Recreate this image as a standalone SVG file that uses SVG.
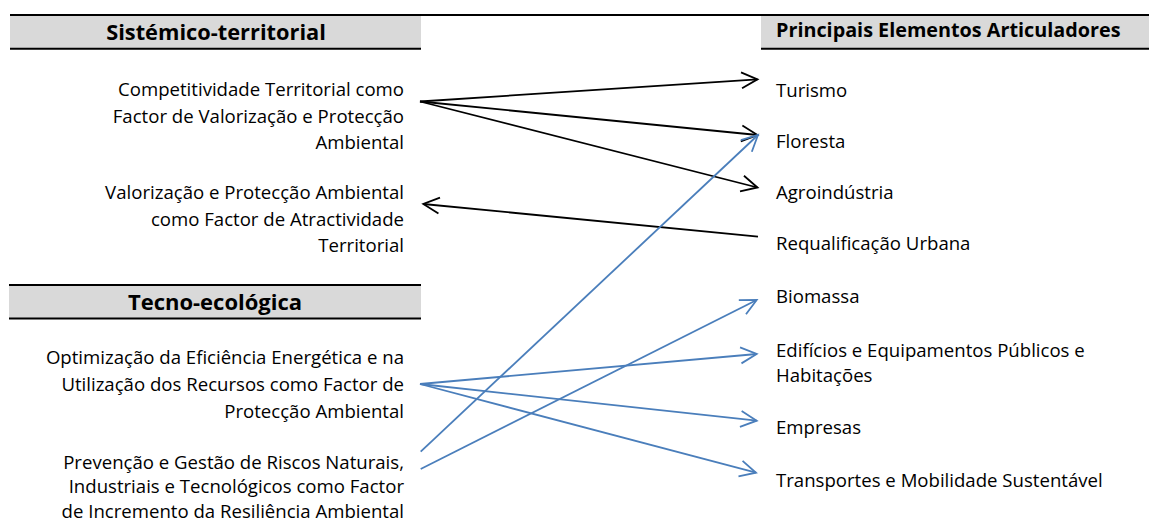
<svg xmlns="http://www.w3.org/2000/svg" width="1149" height="522" viewBox="0 0 1149 522">
<style>
  .t { font-family: "Open Sans", "Liberation Sans", sans-serif; font-size: 18.6px; fill: #000; }
  .l { text-anchor: end; }
  .h { font-family: "Open Sans", "Liberation Sans", sans-serif; font-weight: bold; fill: #000; }
  .band { fill: #D9D9D9; }
  .rule { stroke: #000; stroke-width: 2; }
  .k { stroke: #000; stroke-width: 1.8; fill: none; marker-end: url(#ak); }
  .b { stroke: #4A7EBB; stroke-width: 1.8; fill: none; marker-end: url(#ab); }
</style>
<defs>
  <marker id="ak" markerUnits="userSpaceOnUse" viewBox="-20 -10 22 20" refX="0" refY="0" markerWidth="22" markerHeight="20" orient="auto" overflow="visible">
    <path d="M -16 -8 L 0 0 L -16 8" fill="none" stroke="#000" stroke-width="1.8"/>
  </marker>
  <marker id="ab" markerUnits="userSpaceOnUse" viewBox="-20 -10 22 20" refX="0" refY="0" markerWidth="22" markerHeight="20" orient="auto" overflow="visible">
    <path d="M -16 -8 L 0 0 L -16 8" fill="none" stroke="#4A7EBB" stroke-width="1.8"/>
  </marker>
</defs>
<rect width="1149" height="522" fill="#fff"/>

<g id="header-sistemico">
  <rect class="band" x="10" y="16" width="411" height="32"/>
  <line class="rule" x1="10" y1="15" x2="1149" y2="15"/>
  <line class="rule" x1="10" y1="48.7" x2="421" y2="48.7"/>
  <text class="h" x="216" y="40" font-size="21.8" text-anchor="middle">Sistémico-territorial</text>
</g>
<g id="header-principais">
  <rect class="band" x="761" y="16" width="388" height="32"/>
  <line class="rule" x1="761" y1="48.7" x2="1149" y2="48.7"/>
  <text class="h" x="776" y="37" font-size="19.8">Principais Elementos Articuladores</text>
</g>
<g id="header-tecno">
  <rect class="band" x="9" y="286" width="412" height="32"/>
  <line class="rule" x1="9" y1="285" x2="421" y2="285"/>
  <line class="rule" x1="9" y1="318.5" x2="421" y2="318.5"/>
  <text class="h" x="215" y="310" font-size="22" text-anchor="middle">Tecno-ecológica</text>
</g>

<g id="node-competitividade">
  <text class="t l" x="404" y="96">Competitividade Territorial como</text>
  <text class="t l" x="404" y="122.5">Factor de Valorização e Protecção</text>
  <text class="t l" x="404" y="149">Ambiental</text>
</g>
<g id="node-valorizacao">
  <text class="t l" x="404" y="199">Valorização e Protecção Ambiental</text>
  <text class="t l" x="404" y="225.5">como Factor de Atractividade</text>
  <text class="t l" x="404" y="252">Territorial</text>
</g>
<g id="node-optimizacao">
  <text class="t l" x="404" y="364">Optimização da Eficiência Energética e na</text>
  <text class="t l" x="404" y="391">Utilização dos Recursos como Factor de</text>
  <text class="t l" x="404" y="417.5">Protecção Ambiental</text>
</g>
<g id="node-prevencao">
  <text class="t l" x="404" y="468.5">Prevenção e Gestão de Riscos Naturais,</text>
  <text class="t l" x="404" y="493">Industriais e Tecnológicos como Factor</text>
  <text class="t l" x="404" y="517.5">de Incremento da Resiliência Ambiental</text>
</g>

<g id="node-turismo"><text class="t" x="776" y="96.5">Turismo</text></g>
<g id="node-floresta"><text class="t" x="776" y="147.5">Floresta</text></g>
<g id="node-agroindustria"><text class="t" x="776" y="199">Agroindústria</text></g>
<g id="node-requalificacao"><text class="t" x="776" y="250">Requalificação Urbana</text></g>
<g id="node-biomassa"><text class="t" x="776" y="303">Biomassa</text></g>
<g id="node-edificios">
  <text class="t" x="776" y="357">Edifícios e Equipamentos Públicos e</text>
  <text class="t" x="776" y="381.5">Habitações</text>
</g>
<g id="node-empresas"><text class="t" x="776" y="434">Empresas</text></g>
<g id="node-transportes"><text class="t" x="776" y="486.5">Transportes e Mobilidade Sustentável</text></g>

<g id="connectors">
  <line class="k" x1="420" y1="101.5" x2="757.5" y2="79.3"/>
  <line class="k" x1="420" y1="101.5" x2="757.5" y2="135"/>
  <line class="k" x1="420" y1="101.5" x2="757.5" y2="187.5"/>
  <line class="k" x1="758" y1="236.7" x2="423.3" y2="204"/>
  <line class="b" x1="420.7" y1="451.7" x2="758" y2="135"/>
  <line class="b" x1="420.7" y1="469" x2="756.7" y2="300"/>
  <line class="b" x1="420" y1="384" x2="756.7" y2="354"/>
  <line class="b" x1="420" y1="384" x2="756.7" y2="420.7"/>
  <line class="b" x1="420" y1="384" x2="756" y2="472.7"/>
</g>
</svg>
